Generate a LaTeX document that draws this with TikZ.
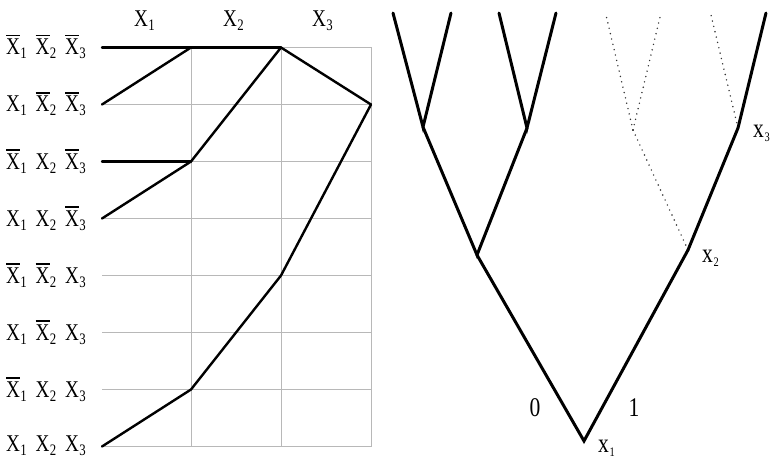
\documentclass[tikz,border=0pt]{standalone}
\usepackage{fontspec}
\setmainfont{Liberation Serif}
\newfontfamily\labfont[FakeStretch=0.8]{Liberation Serif}
\newcommand\myxs[1]{X\kern0.2pt\raisebox{-4pt}{\fontsize{16}{16}\selectfont #1}}
\newcommand\myxb[1]{\setbox0\hbox{X}\rlap{\raisebox{18.5pt}{\rule{\wd0}{1.5pt}}}\myxs{#1}}
\newcommand\mytx[1]{x\kern0.5pt\raisebox{-4pt}{\fontsize{13}{13}\selectfont #1}}
\tikzset{
  lbl/.style={font=\labfont\fontsize{24}{24}\selectfont, inner sep=0pt, anchor=base west},
  tlbl/.style={font=\labfont\fontsize{27}{27}\selectfont, inner sep=0pt},
  gridline/.style={draw=black!28, line width=1pt},
  thickline/.style={draw=black, line width=2.4pt, line cap=round, line join=round},
  treeline/.style={draw=black, line width=3pt, line cap=round, line join=miter},
  dotline/.style={draw=black!80, line width=1.6pt, line cap=round, dash pattern=on 0pt off 5.5pt}
}
\begin{document}
\begin{tikzpicture}[x=1pt,y=-1pt]
\clip (0,0) rectangle (772,460);
\fill[white] (0,0) rectangle (772,460);
% grid coordinates
\foreach \c/\xx in {1/102,2/191,3/281,4/371}{
  \foreach \r in {1,...,8}{
    \pgfmathsetmacro\yy{47.5+57*(\r-1)}
    \coordinate (g\c\r) at (\xx,\yy);
  }
}
% grid lines
\foreach \r in {1,...,8}{ \draw[gridline] (g1\r) -- (g4\r); }
\foreach \c in {2,3,4}{ \draw[gridline] (g\c1) -- (g\c8); }
% black paths
\draw[thickline] (g11) -- (g31);
\draw[thickline] (g12) -- (g21);
\draw[thickline] (g31) -- (g42);
\draw[thickline] (g23) -- (g31);
\draw[thickline] (g13) -- (g23);
\draw[thickline] (g14) -- (g23);
\draw[thickline] (g42) -- (g35) -- (g27) -- (g18);
% headers
\node[lbl] (h1) at (134,27) {\myxs{1}};
\node[lbl] (h2) at (223,27) {\myxs{2}};
\node[lbl] (h3) at (312,27) {\myxs{3}};
% row labels
\foreach \r/\a/\b/\c/\dy in {1/0/0/0/7.5,2/1/0/0/7.5,3/0/1/0/7.5,4/1/1/0/7.5,5/0/0/1/7.5,6/1/0/1/7.5,7/0/1/1/7.5,8/1/1/1/5}{
  \pgfmathsetmacro\yy{47.5+57*(\r-1)+\dy}
  \node[lbl] (ra\r) at (6,\yy) {\ifnum\a=0 \myxb{1}\else\myxs{1}\fi};
  \node[lbl] (rb\r) at (35.5,\yy) {\ifnum\b=0 \myxb{2}\else\myxs{2}\fi};
  \node[lbl] (rc\r) at (65,\yy) {\ifnum\c=0 \myxb{3}\else\myxs{3}\fi};
}
% tree
\coordinate (root) at (584,441);
\coordinate (A) at (477,255);
\coordinate (B) at (688,250);
\coordinate (A1) at (423,127);
\coordinate (A2) at (527,128);
\coordinate (B1) at (633,130);
\coordinate (B2) at (738,128);
\coordinate (L1) at (393,13);
\coordinate (L2) at (451,13);
\coordinate (L3) at (499,13);
\coordinate (L4) at (556,13);
\coordinate (L5) at (606,15);
\coordinate (L6) at (661,13);
\coordinate (L7) at (711,15);
\coordinate (L8) at (766,13);
\draw[dotline] (B) -- (B1);
\draw[dotline] (B1) -- (L5);
\draw[dotline] (B1) -- (L6);
\draw[dotline] (B2) -- (L7);
\draw[treeline] (A) -- (root) -- (B);
\draw[treeline] (L1) -- (A1) -- (L2);
\draw[treeline] (L3) -- (A2) -- (L4);
\draw[treeline] (A1) -- (A) -- (A2);
\draw[treeline] (B) -- (B2) -- (L8);
% tree labels
\node[tlbl, anchor=base] (zero) at (535,416) {0};
\node[tlbl, anchor=base] (one) at (634,416) {1};
\node[tlbl, anchor=base west] (tx1) at (598,452) {\mytx{1}};
\node[tlbl, anchor=base west] (tx2) at (702,262) {\mytx{2}};
\node[tlbl, anchor=base west] (tx3) at (753,137) {\mytx{3}};
\end{tikzpicture}
\end{document}
